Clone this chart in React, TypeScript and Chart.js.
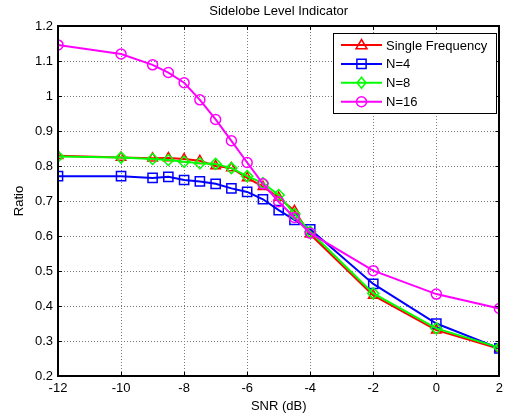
import React, { useEffect, useRef } from "react";
import { Chart, registerables } from "chart.js";

Chart.register(...registerables);

const snr = [-12, -10, -9, -8.5, -8, -7.5, -7, -6.5, -6, -5.5, -5, -4.5, -4, -2, 0, 2];
const singleFreq = [0.829, 0.824, 0.822, 0.823, 0.82, 0.815, 0.8, 0.794, 0.766, 0.741, 0.71, 0.672, 0.605, 0.43, 0.331, 0.278];
const n4 = [0.771, 0.771, 0.766, 0.769, 0.76, 0.756, 0.749, 0.736, 0.726, 0.705, 0.674, 0.646, 0.619, 0.463, 0.35, 0.279];
const n8 = [0.827, 0.824, 0.82, 0.817, 0.812, 0.808, 0.806, 0.794, 0.771, 0.751, 0.717, 0.663, 0.612, 0.436, 0.336, 0.281];
const n16 = [1.146, 1.12, 1.089, 1.067, 1.038, 0.989, 0.933, 0.872, 0.81, 0.749, 0.698, 0.653, 0.608, 0.501, 0.434, 0.393];

const xTicks = [-12, -10, -8, -6, -4, -2, 0, 2];
const yTicks = [0.2, 0.3, 0.4, 0.5, 0.6, 0.7, 0.8, 0.9, 1, 1.1, 1.2];

const titleText = "Sidelobe Level Indicator";
const xTitle = "SNR (dB)";
const yTitle = "Ratio";

const seriesLabels = ["Single Frequency", "N=4", "N=8", "N=16"];
const seriesColors = ["#ff0000", "#0000ff", "#00ff00", "#ff00ff"];
const seriesStyles = ["triangle", "rect", "rectRot", "circle"];
const seriesRadius = [5.5, 6.5, 5.5, 5];
const seriesValues = [singleFreq, n4, n8, n16];

const FONT = "Arial, 'Liberation Sans', sans-serif";

function drawMarker(ctx: CanvasRenderingContext2D, style: string, x: number, y: number, r: number) {
  ctx.beginPath();
  if (style === "circle") {
    ctx.arc(x, y, r, 0, Math.PI * 2);
  } else if (style === "rect") {
    const s = Math.SQRT1_2 * r;
    ctx.rect(x - s, y - s, 2 * s, 2 * s);
  } else if (style === "rectRot") {
    ctx.moveTo(x, y - r);
    ctx.lineTo(x + r * 0.8, y);
    ctx.lineTo(x, y + r);
    ctx.lineTo(x - r * 0.8, y);
    ctx.closePath();
  } else if (style === "triangle") {
    ctx.moveTo(x, y - r);
    ctx.lineTo(x + r, y + r * 0.7);
    ctx.lineTo(x - r, y + r * 0.7);
    ctx.closePath();
  }
  ctx.stroke();
}

const framePlugin = {
  id: "matlabFrame",
  beforeDatasetsDraw(chart: any) {
    const { ctx, chartArea, scales } = chart;
    const { left, right, top, bottom } = chartArea;
    ctx.save();
    ctx.strokeStyle = "#7a7a7a";
    ctx.lineWidth = 1;
    ctx.setLineDash([1, 2]);
    xTicks.forEach((v) => {
      const px = Math.round(scales.x.getPixelForValue(v)) + 0.5;
      ctx.beginPath();
      ctx.moveTo(px, top);
      ctx.lineTo(px, bottom);
      ctx.stroke();
    });
    yTicks.forEach((v) => {
      const py = Math.round(scales.y.getPixelForValue(v)) + 0.5;
      ctx.beginPath();
      ctx.moveTo(left, py);
      ctx.lineTo(right, py);
      ctx.stroke();
    });
    ctx.restore();
  },
  afterDatasetsDraw(chart: any) {
    const { ctx, chartArea, scales } = chart;
    const { left, right, top, bottom } = chartArea;
    ctx.save();
    ctx.setLineDash([]);
    ctx.strokeStyle = "#000";
    ctx.lineWidth = 1;
    const tl = 4;
    xTicks.forEach((v) => {
      const px = Math.round(scales.x.getPixelForValue(v)) + 0.5;
      ctx.beginPath();
      ctx.moveTo(px, bottom);
      ctx.lineTo(px, bottom - tl);
      ctx.moveTo(px, top);
      ctx.lineTo(px, top + tl);
      ctx.stroke();
    });
    yTicks.forEach((v) => {
      const py = Math.round(scales.y.getPixelForValue(v)) + 0.5;
      ctx.beginPath();
      ctx.moveTo(left, py);
      ctx.lineTo(left + tl, py);
      ctx.moveTo(right, py);
      ctx.lineTo(right - tl, py);
      ctx.stroke();
    });
    ctx.lineWidth = 2;
    ctx.strokeRect(Math.round(left), Math.round(top), Math.round(right - left), Math.round(bottom - top));

    // titles
    ctx.fillStyle = "#000";
    ctx.font = `13px ${FONT}`;
    ctx.textAlign = "center";
    ctx.textBaseline = "middle";
    ctx.fillText(titleText, (left + right) / 2, 11);
    ctx.fillText(xTitle, (left + right) / 2, 406);
    ctx.save();
    ctx.translate(19, (top + bottom) / 2);
    ctx.rotate(-Math.PI / 2);
    ctx.fillText(yTitle, 0, 0);
    ctx.restore();

    // legend
    const lx = 333, ly = 33, lw = 163, lh = 80;
    ctx.fillStyle = "#fff";
    ctx.fillRect(lx, ly, lw, lh);
    ctx.lineWidth = 1;
    ctx.strokeStyle = "#000";
    ctx.strokeRect(lx + 0.5, ly + 0.5, lw, lh);
    ctx.font = `13px ${FONT}`;
    ctx.textAlign = "left";
    seriesLabels.forEach((label, i) => {
      const y = 45 + i * 18.9;
      ctx.strokeStyle = seriesColors[i];
      ctx.lineWidth = 2;
      ctx.beginPath();
      ctx.moveTo(341, y);
      ctx.lineTo(382, y);
      ctx.stroke();
      ctx.lineWidth = 1.5;
      drawMarker(ctx, seriesStyles[i], 361.5, y, seriesRadius[i]);
      ctx.fillStyle = "#000";
      ctx.fillText(label, 386, y + 1);
    });
    ctx.restore();
  },
};

export default function App() {
  const canvasRef = useRef<HTMLCanvasElement>(null);

  useEffect(() => {
    const canvas = canvasRef.current;
    if (!canvas) return;
    const datasets = seriesLabels.map((label, i) => ({
      label,
      data: snr.map((x, j) => ({ x, y: seriesValues[i][j] })),
      borderColor: seriesColors[i],
      backgroundColor: "rgba(0,0,0,0)",
      borderWidth: 2,
      pointStyle: seriesStyles[i] as any,
      pointRadius: seriesRadius[i],
      pointBorderWidth: 1.5,
      pointBorderColor: seriesColors[i],
      pointBackgroundColor: "rgba(0,0,0,0)",
      tension: 0,
      fill: false,
      order: 4 - i,
    }));
    const chart = new Chart(canvas, {
      type: "line",
      data: { datasets },
      plugins: [framePlugin],
      options: {
        animation: false,
        responsive: false,
        devicePixelRatio: 1,
        layout: { padding: { top: 26, right: 6, left: 0, bottom: 0 } },
        plugins: {
          legend: { display: false },
          title: { display: false },
          tooltip: { enabled: false },
        },
        scales: {
          x: {
            type: "linear",
            min: -12,
            max: 2,
            afterBuildTicks: (scale: any) => {
              scale.ticks = xTicks.map((value) => ({ value }));
            },
            afterFit: (scale: any) => {
              scale.height = 43;
            },
            grid: { display: false, drawTicks: false },
            border: { display: false },
            ticks: {
              color: "#000",
              font: { family: FONT, size: 13 },
              padding: 5,
              maxRotation: 0,
              autoSkip: false,
            },
          },
          y: {
            type: "linear",
            min: 0.2,
            max: 1.2,
            afterBuildTicks: (scale: any) => {
              scale.ticks = yTicks.map((value) => ({ value }));
            },
            afterFit: (scale: any) => {
              scale.width = 58;
            },
            grid: { display: false, drawTicks: false },
            border: { display: false },
            ticks: {
              color: "#000",
              font: { family: FONT, size: 13 },
              padding: 5,
              autoSkip: false,
              callback: (v: any) => String(Math.round(Number(v) * 10) / 10),
            },
          },
        },
      },
    });
    return () => chart.destroy();
  }, []);

  return (
    <div style={{ position: "absolute", left: 0, top: 0, width: 508, height: 419, background: "#fff" }}>
      <canvas ref={canvasRef} width={508} height={419} />
    </div>
  );
}
